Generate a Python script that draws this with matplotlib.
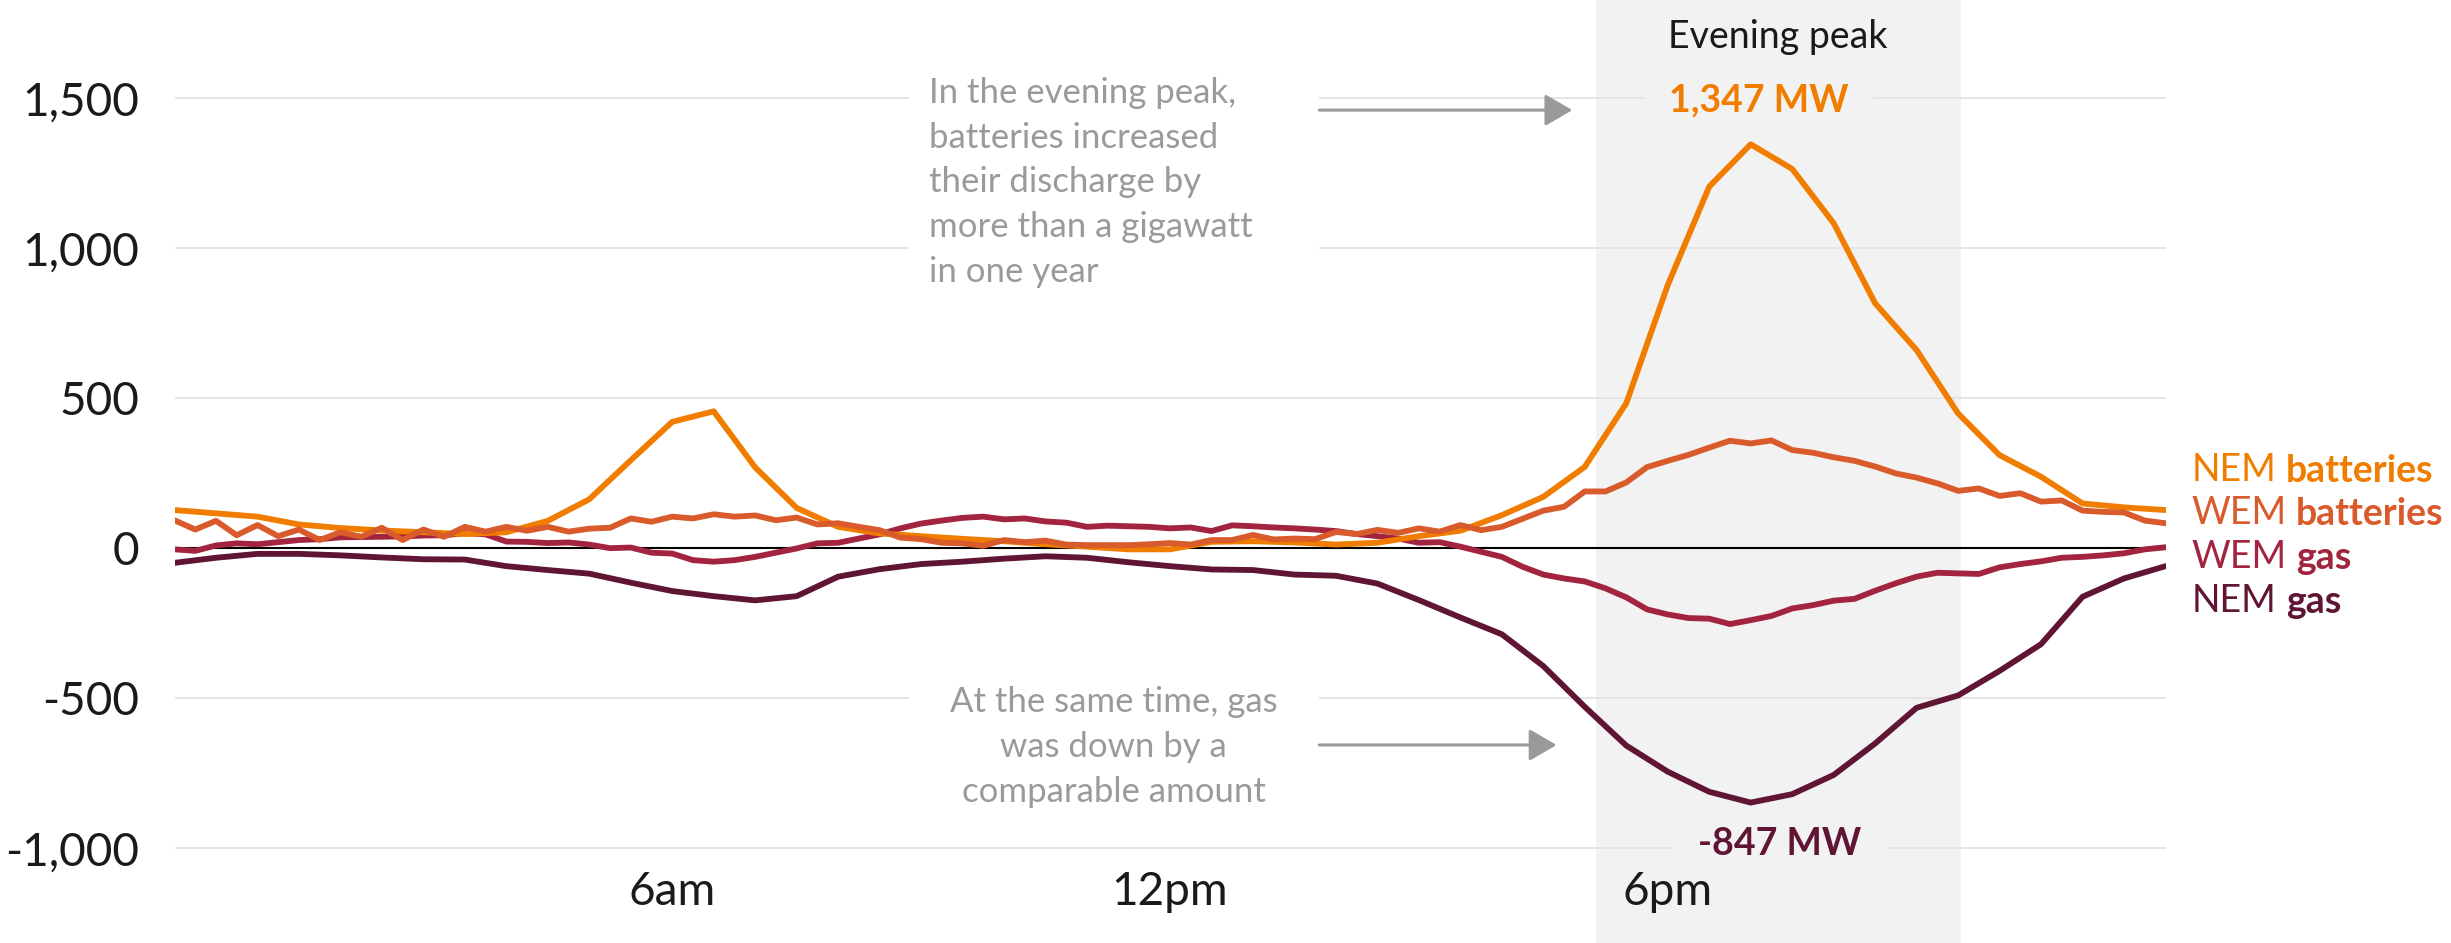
import numpy as np
import matplotlib
matplotlib.use('Agg')
import matplotlib.pyplot as plt
from matplotlib.patches import Rectangle

plt.rcParams['font.family'] = ['Lato', 'DejaVu Sans']

# NEM: half-hourly average change (MW), WEM: 15-minute average change (MW)
nem_hours = np.arange(0, 24.01, 0.5)
wem_hours = np.arange(0, 24.01, 0.25)

nem_batteries = [128, 117, 106, 80, 68, 60, 54, 48, 54, 92, 164, 294, 422, 457, 270, 135,
                 72, 50, 41, 32, 24, 14, 6, -3, -3, 22, 24, 20, 13, 19, 41, 59,
                 111, 172, 272, 484, 878, 1206, 1347, 1265, 1084, 817, 661, 450, 311, 239,
                 150, 137, 128]
nem_gas = [-48, -31, -18, -18, -23, -30, -36, -37, -59, -72, -84, -114, -142, -159, -173, -159,
           -94, -69, -52, -44, -34, -26, -31, -46, -59, -70, -72, -87, -91, -117, -172, -230,
           -286, -392, -528, -657, -744, -811, -847, -819, -755, -650, -531, -490, -408, -319,
           -161, -100, -59]
wem_batteries = [94, 63, 92, 44, 78, 41, 63, 28, 54, 39, 69, 28, 63, 39, 72, 56, 72, 59, 72, 56,
                 66, 69, 100, 89, 106,
                 100, 114, 106, 110, 94, 103, 80, 84, 72, 61, 36, 31, 19, 17, 9, 28, 21, 26, 13, 11,
                 11, 11, 14, 18, 13, 28,
                 28, 45, 30, 33, 31, 55, 48, 62, 52, 67, 56, 78, 61, 72, 99, 126, 139, 190, 190, 220,
                 271, 292, 312, 336,
                 359, 350, 360, 328, 319, 304, 292, 273, 250, 236, 217, 192, 200, 175, 184, 156, 160,
                 126, 122, 120, 93, 84]
wem_gas = [-3, -8, 10, 17, 14, 21, 28, 31, 37, 38, 39, 40, 43, 44, 51, 47, 23, 22, 18, 20,
           13, 1, 3, -14, -17,
           -39, -44, -39, -28, -14, 0, 17, 19, 33, 47, 67, 83, 93, 102, 106, 97, 100, 90, 86, 72,
           76, 74, 72, 67, 70, 58,
           77, 74, 70, 67, 63, 58, 48, 41, 33, 19, 21, 6, -11, -28, -61, -87, -100, -110, -133, -163,
           -203, -220, -232, -234,
           -252, -239, -225, -200, -189, -174, -168, -141, -116, -94, -81, -83, -85, -63, -52, -43, -31,
           -28, -23, -16, -3, 4]

y_ticks = [-1000, -500, 0, 500, 1000, 1500]
x_ticks = [6, 12, 18]
x_labels = ['6am', '12pm', '6pm']
peak_window = (17.13, 21.53)

c_nem_bat = '#f07d00'
c_wem_bat = '#d95a2b'
c_wem_gas = '#a3243f'
c_nem_gas = '#5f1533'
shade = '#f2f2f2'
grey = '#9a9a9a'
ink = '#1a1a1a'

fig = plt.figure(figsize=(24.51, 9.43), dpi=100)
ax = fig.add_axes([174.5 / 2451, 0, 1991 / 2451, 1])
ax.set_xlim(0, 24)
ax.set_ylim(-1315, 1828)
for s in ax.spines.values():
    s.set_visible(False)
ax.set_xticks([])
ax.set_yticks(y_ticks)
ax.set_yticklabels([f'{v:,}' for v in y_ticks], fontsize=33, color=ink)
ax.tick_params(axis='y', length=0, pad=25.5)

ax.axvspan(*peak_window, color=shade, lw=0, zorder=0)
for v in y_ticks:
    if v == 0:
        ax.axhline(v, color='black', lw=1.5, zorder=2)
    else:
        ax.axhline(v, color='#e3e3e3', lw=1.3, zorder=0.5)

# white panels behind the notes
ax.add_patch(Rectangle((8.85, 694), 4.95, 934, fc='white', ec='none', zorder=1))
ax.add_patch(Rectangle((8.85, -922), 4.95, 500, fc='white', ec='none', zorder=1))

line_kw = dict(lw=4.2, solid_joinstyle='round', solid_capstyle='round', zorder=3)
ax.plot(nem_hours, nem_gas, color=c_nem_gas, **line_kw)
ax.plot(wem_hours, wem_gas, color=c_wem_gas, **line_kw)
ax.plot(nem_hours, nem_batteries, color=c_nem_bat, **line_kw)
ax.plot(wem_hours, wem_batteries, color=c_wem_bat, **line_kw)

for h, lab in zip(x_ticks, x_labels):
    ax.text(h, -1189, lab, ha='center', va='baseline', fontsize=33, color=ink, zorder=5)

ax.text(sum(peak_window) / 2, 1668, 'Evening peak', ha='center', va='baseline',
        fontsize=27, color=ink, zorder=5)

ax.text(19.1, 1458, f'{max(nem_batteries):,} MW', ha='center', va='baseline',
        fontsize=27, fontweight='bold', color=c_nem_bat, zorder=2,
        bbox=dict(boxstyle='square,pad=0.65', fc=shade, ec='none'))
ax.text(19.35, -1022, f'{min(nem_gas):,} MW', ha='center', va='baseline',
        fontsize=27, fontweight='bold', color=c_nem_gas, zorder=2,
        bbox=dict(boxstyle='square,pad=0.65', fc=shade, ec='none'))

note_kw = dict(fontsize=25, color=grey, va='top', linespacing=1.49, zorder=4)
ax.text(9.095, 1572, 'In the evening peak,\nbatteries increased\ntheir discharge by\n'
        'more than a gigawatt\nin one year', ha='left', **note_kw)
ax.text(11.32, -460, 'At the same time, gas\nwas down by a\ncomparable amount',
        ha='center', multialignment='center', **note_kw)

arrow = dict(arrowstyle='-|>,head_length=0.6,head_width=0.35', color=grey, lw=2.2,
             mutation_scale=28, shrinkA=0, shrinkB=0)
ax.annotate('', xy=(16.85, 1461), xytext=(13.80, 1461), arrowprops=arrow, zorder=4)
ax.annotate('', xy=(16.66, -655), xytext=(13.80, -655), arrowprops=arrow, zorder=4)

# end labels: market in regular, fuel in bold
labels = [('NEM', 'batteries', c_nem_bat, 225),
          ('WEM', 'batteries', c_wem_bat, 81),
          ('WEM', 'gas', c_wem_gas, -66),
          ('NEM', 'gas', c_nem_gas, -212)]
for market, fuel, col, y in labels:
    t = ax.text(24.31, y, market, ha='left', va='baseline', fontsize=27, color=col)
    ax.annotate(fuel, xy=(1, 0), xycoords=t, xytext=(7, 0), textcoords='offset points',
                ha='left', va='bottom', fontsize=27, fontweight='bold', color=col)

fig.savefig('out.png', dpi=100, facecolor='white')
